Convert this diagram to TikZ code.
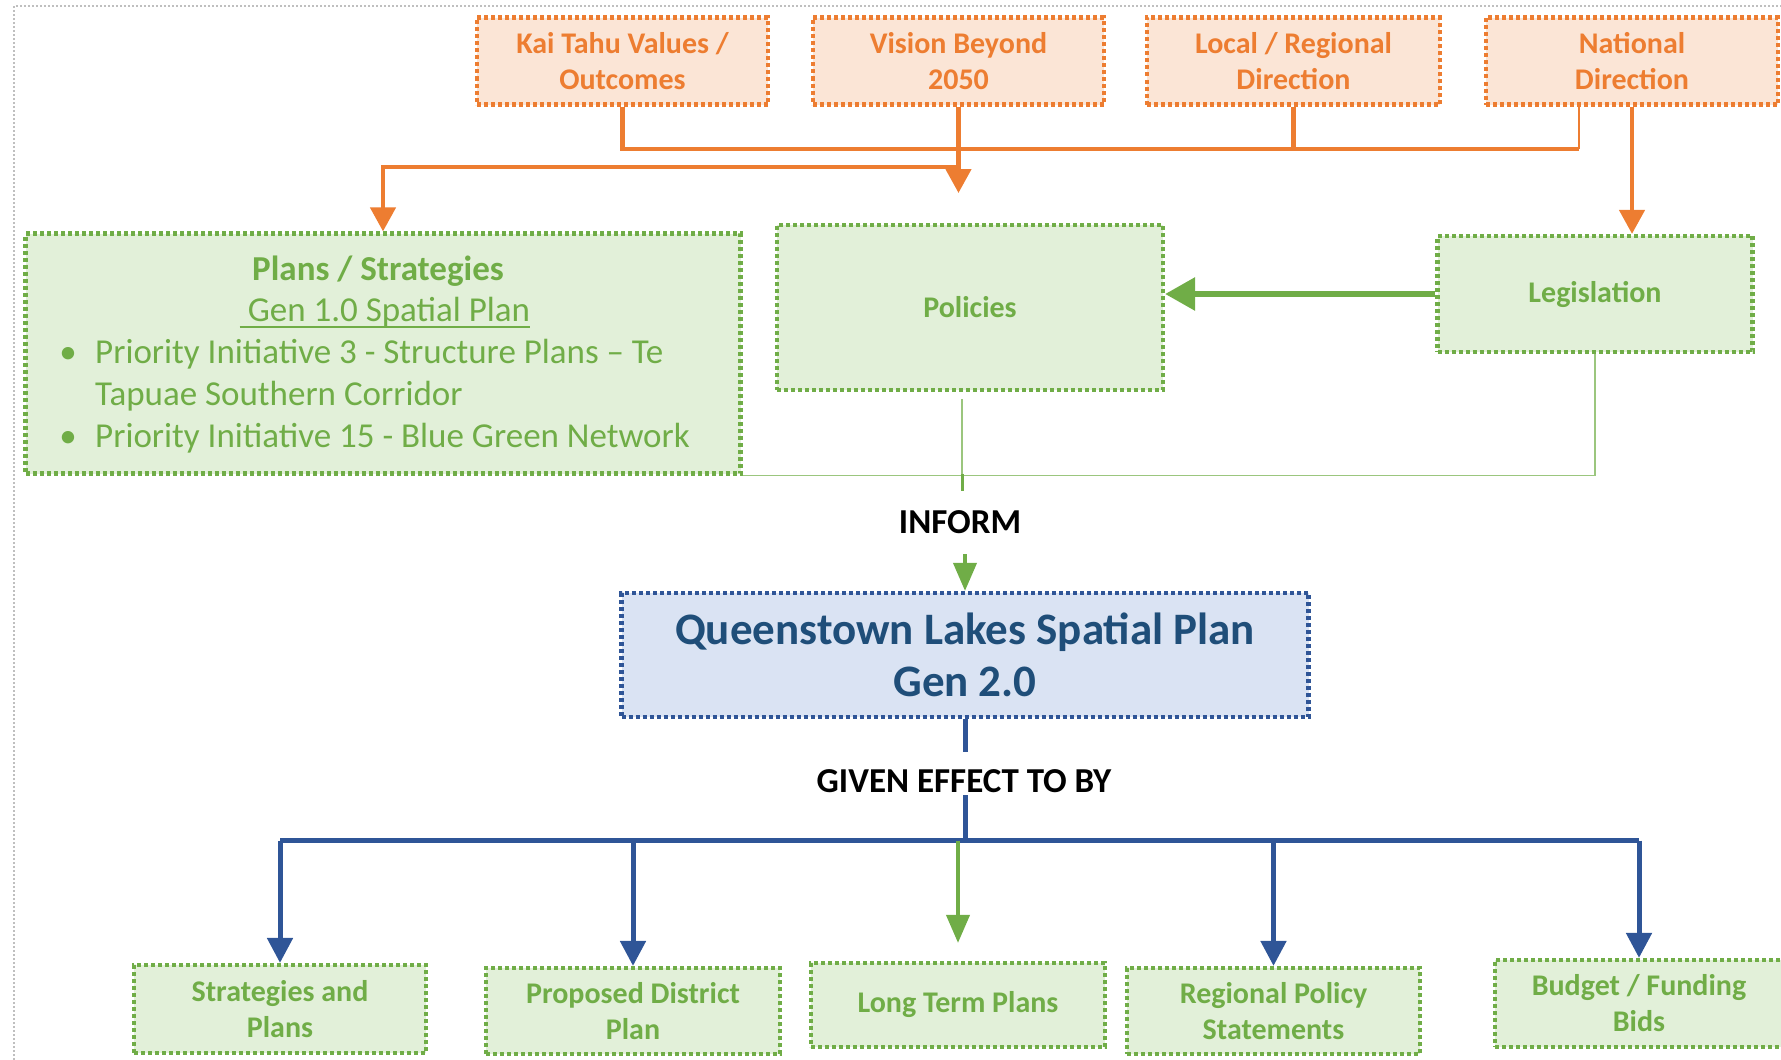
\documentclass[tikz,border=0pt]{standalone}
\usepackage{fontspec}
\setmainfont{Carlito}
\usetikzlibrary{arrows.meta}
\definecolor{orng}{HTML}{ED7D31}
\definecolor{orngfill}{HTML}{FBE5D6}
\definecolor{grn}{HTML}{70AD47}
\definecolor{grnfill}{HTML}{E2F0D9}
\definecolor{blu}{HTML}{2F5597}
\definecolor{blufill}{HTML}{DAE3F3}
\definecolor{blutext}{HTML}{1F4E79}
\definecolor{frame}{HTML}{BFBFBF}
\begin{document}
\begin{tikzpicture}[x=1pt,y=-1pt,
  boxbase/.style={rectangle, line width=4.2pt, dash pattern=on 4pt off 3pt, inner sep=0pt, align=center},
  obox/.style={boxbase, draw=orng, fill=orngfill, text=orng, font=\fontsize{30}{36}\selectfont\bfseries},
  gbox/.style={boxbase, draw=grn, fill=grnfill, text=grn, font=\fontsize{30}{36}\selectfont\bfseries},
  qbox/.style={boxbase, draw=blu, fill=blufill, text=blutext, font=\fontsize{45}{52}\selectfont\bfseries},
  lbl/.style={inner sep=0pt, text=black, font=\fontsize{35}{40}\selectfont\bfseries},
  ptext/.style={inner sep=0pt, text=grn, font=\fontsize{35}{42}\selectfont, anchor=base west},
  oline/.style={draw=orng, line width=4.5pt},
  oarrow/.style={oline, -{Triangle[width=25pt,length=24pt]}},
  bline/.style={draw=blu, line width=5pt},
  barrow/.style={bline, -{Triangle[width=25pt,length=25pt]}},
  gthin/.style={draw=grn!70, line width=1.6pt},
  garrow/.style={draw=grn, line width=4pt, -{Triangle[width=23pt,length=28pt]}},
  gbig/.style={draw=grn, line width=6pt, -{Triangle[width=32pt,length=30pt]}}
]
\useasboundingbox (0,0) rectangle (1781,1060);
% page frame
\draw[frame, line width=1.3pt, dash pattern=on 2pt off 2pt] (14,1060) -- (14,6) -- (1781,6);

% top boxes
\node[obox, minimum width=291pt, minimum height=87pt] (kai) at (622.5,61) {Kai Tahu Values /\\Outcomes};
\node[obox, minimum width=291pt, minimum height=87pt] (vis) at (958.5,61) {Vision Beyond\\2050};
\node[obox, minimum width=293pt, minimum height=87pt] (loc) at (1293.5,61) {Local / Regional\\Direction};
\node[obox, minimum width=292pt, minimum height=87pt] (nat) at (1632,61) {National\\Direction};

% middle boxes
\node[gbox, minimum width=715pt, minimum height=240pt] (plans) at (383,353.5) {};
\node[gbox, minimum width=386pt, minimum height=165pt] (pol) at (970,307.5) {Policies};
\node[gbox, minimum width=315pt, minimum height=116pt] (leg) at (1595,294) {Legislation};

% plans text
\node[ptext, anchor=base, font=\fontsize{35}{42}\selectfont\bfseries] (pt1) at (378,280) {Plans / Strategies};
\node[ptext, anchor=base] (pt2) at (385,321) {\ Gen 1.0 Spatial Plan};
\draw[grn, line width=2.2pt] ([yshift=-6pt]pt2.base west) -- ([yshift=-6pt]pt2.base east);
\node[ptext, anchor=base] (b1) at (68,363) {•};
\node[ptext] (pt3) at (95,363) {Priority Initiative 3 - Structure Plans – Te};
\node[ptext] (pt4) at (95,405) {Tapuae Southern Corridor};
\node[ptext, anchor=base] (b2) at (68,447) {•};
\node[ptext] (pt5) at (95,447) {Priority Initiative 15 - Blue Green Network};

% central box
\node[qbox, minimum width=687pt, minimum height=124pt] (qlsp) at (965,655) {Queenstown Lakes Spatial Plan\\Gen 2.0};

% bottom boxes
\node[gbox, minimum width=292pt, minimum height=88pt] (strat) at (280,1009) {Strategies and\\Plans};
\node[gbox, minimum width=294pt, minimum height=86pt] (pdp) at (633,1011) {Proposed District\\Plan};
\node[gbox, minimum width=294pt, minimum height=84pt] (ltp) at (958,1005) {Long Term Plans};
\node[gbox, minimum width=293pt, minimum height=86pt] (rps) at (1273.5,1011) {Regional Policy\\Statements};
\node[gbox, minimum width=288pt, minimum height=87pt] (bud) at (1639,1003.5) {Budget / Funding\\Bids};

% labels
\node[lbl] (inform) at (960,522.5) {INFORM};
\node[lbl] (given) at (964,781.4) {GIVEN EFFECT TO BY};

% orange connectors
\coordinate (jR) at (1579,149);
\coordinate (jL) at (958.5,167);
\coordinate (vtip) at (958.5,193);
\draw[oline] (kai.south) -- (kai.south |- jR) -- (jR);
\draw[orng, line width=1.6pt] (jR) -- (jR |- nat.south);
\draw[oline] (loc.south) -- (loc.south |- jR);
\draw[oarrow] (vis.south) -- (vtip);
\draw[oarrow] (jL) -- (jL -| plans.north) -- (plans.north);
\draw[oarrow] (nat.south) -- (nat.south |- leg.north);

% green connectors
\draw[gbig] (leg.west) -- (pol.east |- leg.west);
\coordinate (gj) at (962,473.6);
\draw[gthin, shorten <=7pt] (pol.south -| gj) -- (gj);
\draw[gthin] (plans.south east) -- (leg.south |- plans.south east) -- (leg.south);
\draw[grn, line width=3pt] (gj) -- ++(0,17);
\coordinate (ia) at (965,554);
\draw[garrow] (ia) -- (ia |- qlsp.north);

% blue connectors
\coordinate (bA) at (965,752);
\coordinate (bB) at (965,795);
\coordinate (bj) at (965,840.5);
\draw[bline] (qlsp.south) -- (bA);
\draw[bline] (bB) -- (bj);
\draw[bline] (strat.north |- bj) -- (bud.north |- bj);
\draw[barrow] (strat.north |- bj) -- (strat.north);
\draw[barrow] (pdp.north |- bj) -- (pdp.north);
\draw[barrow] (rps.north |- bj) -- (rps.north);
\draw[barrow] (bud.north |- bj) -- (bud.north);
\draw[garrow, shorten >=18pt] (ltp.north |- bj) -- (ltp.north);
\end{tikzpicture}
\end{document}
